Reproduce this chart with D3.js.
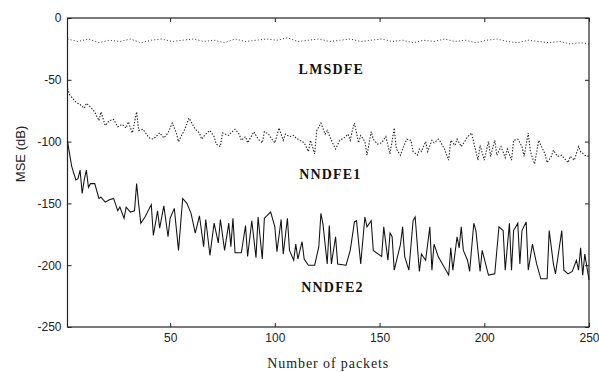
<!DOCTYPE html>
<html>
<head>
<meta charset="utf-8">
<script src="https://cdn.jsdelivr.net/npm/d3@7"></script>
<style>
  body { margin: 0; background: #fff; }
</style>
</head>
<body>
<script>
// values (packet number, MSE in dB)
const lmsPackets = [1, 6, 11, 16, 21, 26, 31, 36, 41, 46, 51, 56, 61, 66, 71, 76, 81, 86, 91, 96, 101, 106, 111, 116, 121, 126, 131, 136, 141, 146, 151, 156, 161, 166, 171, 176, 181, 186, 191, 196, 201, 206, 211, 216, 221, 226, 231, 236, 241, 246, 250];
const lmsValues = [-17, -19, -17, -20, -18, -19, -17, -20, -18, -17, -19, -18, -17, -19, -18, -20, -17, -19, -18, -17, -18, -16, -19, -18, -17, -19, -18, -17, -19, -18, -17, -19, -18, -20, -18, -19, -17, -19, -18, -20, -18, -17, -19, -20, -18, -19, -20, -19, -21, -20, -21];

const nn1Packets = [1, 2, 5, 7, 9, 10, 12, 14, 16, 17, 19, 21, 23, 25, 27, 29, 30, 32, 34, 35, 37, 40, 42, 45, 47, 49, 51, 53, 54, 57, 59, 62, 64, 65, 67, 69, 71, 72, 74, 75, 78, 79, 81, 83, 84, 86, 87, 90, 92, 94, 95, 97, 99, 100, 102, 104, 105, 107, 109, 110, 112, 114, 116, 117, 119, 120, 122, 124, 125, 127, 129, 131, 133, 135, 136, 137, 138, 140, 141, 143, 144, 146, 147, 149, 151, 153, 155, 157, 158, 160, 161, 163, 165, 166, 168, 169, 170, 172, 173, 175, 176, 178, 179, 181, 183, 184, 186, 187, 189, 191, 192, 194, 195, 197, 198, 200, 202, 203, 205, 206, 208, 210, 211, 213, 214, 216, 218, 219, 221, 222, 224, 226, 227, 229, 230, 232, 233, 235, 237, 238, 240, 241, 243, 245, 246, 248, 250];
const nn1Values = [-57, -62, -68, -70, -73, -69, -72, -76, -83, -76, -87, -83, -82, -88, -86, -89, -84, -93, -76, -91, -90, -97, -98, -93, -97, -93, -85, -93, -100, -90, -81, -90, -93, -98, -94, -91, -96, -102, -104, -93, -95, -93, -90, -94, -99, -96, -101, -92, -98, -101, -92, -94, -99, -101, -89, -99, -94, -96, -95, -97, -99, -101, -108, -99, -110, -91, -85, -94, -91, -99, -106, -99, -97, -94, -99, -91, -85, -101, -95, -100, -111, -92, -98, -102, -101, -96, -110, -89, -106, -111, -106, -98, -99, -108, -111, -106, -108, -100, -108, -99, -101, -98, -100, -106, -115, -99, -103, -98, -104, -99, -96, -93, -101, -115, -103, -115, -100, -112, -99, -111, -104, -113, -106, -115, -99, -98, -104, -112, -93, -108, -118, -99, -103, -110, -117, -112, -107, -112, -111, -113, -117, -112, -115, -104, -108, -111, -112];

const nn2Packets = [1, 2, 3, 5, 6, 7, 8, 9, 10, 11, 12, 14, 16, 17, 19, 21, 23, 25, 26, 28, 29, 31, 33, 34, 35, 36, 38, 41, 42, 44, 45, 47, 49, 50, 52, 54, 56, 58, 60, 62, 64, 66, 67, 69, 71, 73, 74, 76, 78, 79, 80, 81, 84, 86, 87, 89, 91, 92, 94, 95, 98, 100, 101, 103, 104, 106, 107, 109, 110, 111, 113, 114, 116, 119, 121, 122, 123, 125, 126, 127, 129, 130, 134, 136, 138, 139, 141, 143, 144, 146, 147, 151, 152, 154, 155, 156, 157, 160, 161, 162, 164, 166, 167, 169, 170, 172, 174, 175, 176, 178, 180, 183, 184, 185, 187, 188, 189, 190, 192, 193, 195, 196, 198, 199, 202, 205, 207, 209, 210, 212, 213, 214, 216, 217, 218, 220, 221, 223, 225, 227, 230, 231, 233, 234, 237, 238, 240, 242, 244, 245, 246, 247, 248, 250];
const nn2Values = [-100, -110, -120, -131, -130, -123, -142, -131, -123, -137, -134, -134, -146, -145, -149, -147, -146, -156, -153, -162, -153, -157, -156, -134, -151, -166, -161, -151, -176, -156, -170, -152, -177, -162, -154, -188, -146, -150, -158, -174, -160, -185, -163, -192, -166, -182, -163, -188, -166, -185, -162, -190, -190, -168, -193, -164, -194, -161, -195, -162, -157, -169, -189, -163, -191, -162, -188, -196, -183, -195, -181, -195, -200, -200, -185, -158, -167, -199, -168, -199, -177, -199, -200, -188, -165, -164, -199, -161, -169, -164, -188, -193, -169, -196, -174, -177, -204, -183, -169, -193, -204, -164, -161, -205, -191, -196, -169, -204, -183, -193, -199, -208, -186, -204, -177, -186, -169, -188, -196, -205, -166, -172, -205, -188, -208, -207, -169, -172, -204, -166, -204, -172, -166, -199, -172, -165, -204, -183, -199, -211, -211, -172, -199, -207, -172, -204, -207, -205, -196, -204, -186, -208, -191, -212];

const seriesNames = ["LMSDFE", "NNDFE1", "NNDFE2"];
const xTicks = [50, 100, 150, 200, 250];
const yTicks = [0, -50, -100, -150, -200, -250];

const width = 599, height = 372;
const svg = d3.select("body").append("svg")
    .attr("width", width)
    .attr("height", height)
    .style("font-family", "'Liberation Sans', Arial, sans-serif");

const x = d3.scaleLinear().domain([1, 250]).range([67.5, 589]);
const y = d3.scaleLinear().domain([-250, 0]).range([327, 18]);

// frame
svg.append("rect")
    .attr("x", x(1)).attr("y", y(0))
    .attr("width", x(250) - x(1)).attr("height", y(-250) - y(0))
    .attr("fill", "none").attr("stroke", "#222").attr("stroke-width", 1.2);

// axes, ticks pointing inward
const axisL = svg.append("g").attr("transform", `translate(${x(1)},0)`)
    .call(d3.axisLeft(y).tickValues(yTicks).tickSizeInner(-4).tickSizeOuter(0).tickPadding(6));
const axisR = svg.append("g").attr("transform", `translate(${x(250)},0)`)
    .call(d3.axisRight(y).tickValues(yTicks).tickSizeInner(-4).tickSizeOuter(0).tickFormat(""));
const axisB = svg.append("g").attr("transform", `translate(0,${y(-250)})`)
    .call(d3.axisBottom(x).tickValues(xTicks).tickSizeInner(-4).tickSizeOuter(0).tickPadding(6));
const axisT = svg.append("g").attr("transform", `translate(0,${y(0)})`)
    .call(d3.axisTop(x).tickValues(xTicks).tickSizeInner(-4).tickSizeOuter(0).tickFormat(""));

[axisL, axisR, axisB, axisT].forEach(g => {
    g.select(".domain").remove();
    g.selectAll("line").attr("stroke", "#222");
    g.selectAll("text").attr("fill", "#222").style("font-size", "12px")
        .style("font-family", "'Liberation Sans', Arial, sans-serif");
});
axisL.selectAll("text").text(d => String(d));

// series
function series(packets, values) {
    return packets.map((p, i) => [p, values[i]]);
}
const line = d3.line().x(d => x(d[0])).y(d => y(d[1]));

svg.append("path").datum(series(lmsPackets, lmsValues))
    .attr("d", line).attr("fill", "none").attr("stroke", "#333")
    .attr("stroke-width", 1).attr("stroke-dasharray", "1,2.2");
svg.append("path").datum(series(nn1Packets, nn1Values))
    .attr("d", line).attr("fill", "none").attr("stroke", "#222")
    .attr("stroke-width", 1.1).attr("stroke-dasharray", "1.4,1.6");
svg.append("path").datum(series(nn2Packets, nn2Values))
    .attr("d", line).attr("fill", "none").attr("stroke", "#111")
    .attr("stroke-width", 1.05);

// series labels (anchored in data coordinates)
const labelAt = [[127, -45], [126.5, -130], [127.5, -222]];
svg.selectAll(".slabel").data(seriesNames).join("text")
    .attr("x", (d, i) => x(labelAt[i][0]))
    .attr("y", (d, i) => y(labelAt[i][1]))
    .attr("text-anchor", "middle")
    .style("font-family", "'Liberation Serif', 'Times New Roman', serif")
    .style("font-weight", "bold")
    .style("font-size", "14px")
    .style("letter-spacing", "1.2px")
    .attr("fill", "#111")
    .text(d => d);

// axis titles
svg.append("text")
    .attr("transform", `translate(25,${(y(-84) + y(-136)) / 2}) rotate(-90)`)
    .attr("text-anchor", "middle")
    .style("font-size", "13px")
    .attr("fill", "#222")
    .text("MSE (dB)");

svg.append("text")
    .attr("x", (x(1) + x(250)) / 2)
    .attr("y", 368)
    .attr("text-anchor", "middle")
    .style("font-family", "'Liberation Serif', 'Times New Roman', serif")
    .style("font-size", "14px")
    .style("letter-spacing", "0.9px")
    .attr("fill", "#222")
    .text("Number of packets");
</script>
</body>
</html>
